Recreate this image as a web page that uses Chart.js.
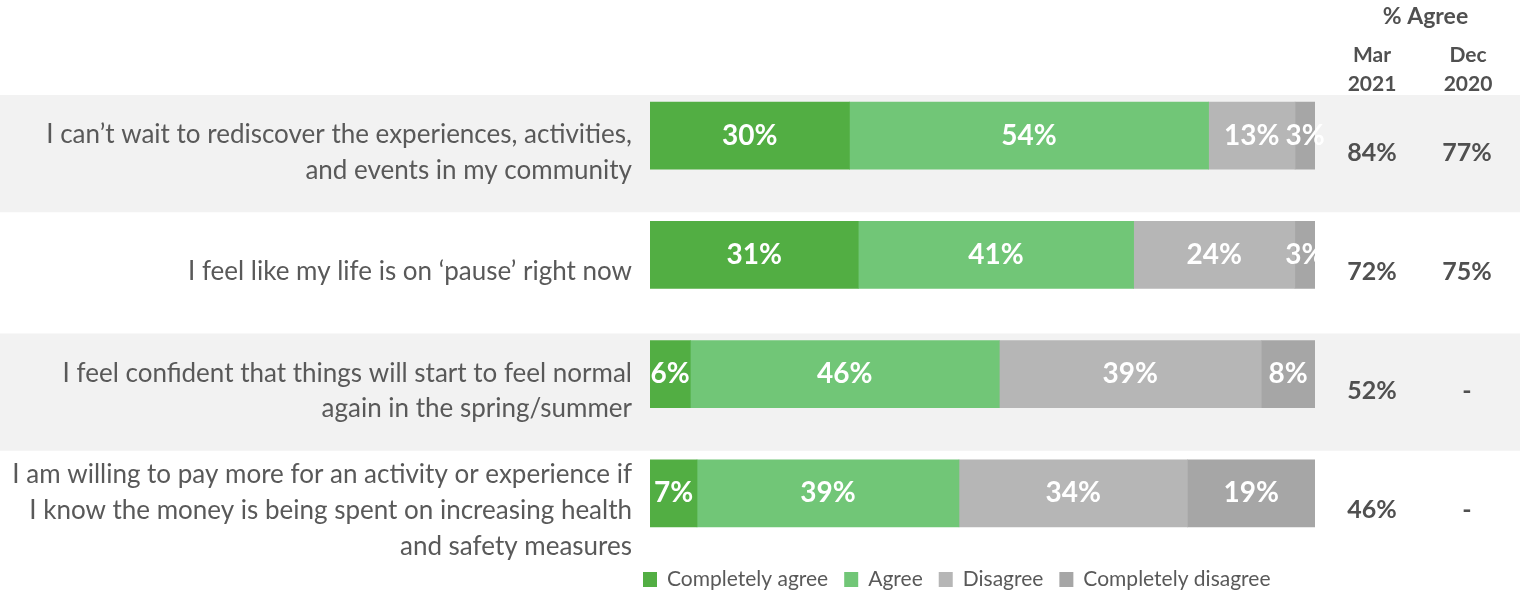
<!DOCTYPE html>
<html>
<head>
<meta charset="utf-8">
<script src="https://cdn.jsdelivr.net/npm/chart.js@4.4.0/dist/chart.umd.min.js"></script>
<style>
  body { margin: 0; background: #fff; }
  #wrap { width: 1520px; height: 593px; }
</style>
</head>
<body>
<div id="wrap"><canvas id="agreeChart" width="1520" height="593"></canvas></div>
<script>
// statements (one array per wrapped label)
const statements = [
    ['I can’t wait to rediscover the experiences, activities,', 'and events in my community'],
    ['I feel like my life is on ‘pause’ right now'],
    ['I feel confident that things will start to feel normal', 'again in the spring/summer'],
    ['I am willing to pay more for an activity or experience if', 'I know the money is being spent on increasing health', 'and safety measures']
];

const seriesNames = ['Completely agree', 'Agree', 'Disagree', 'Completely disagree'];
const completelyAgree = [30, 31, 6, 7];
const agree = [54, 41, 46, 39];
const disagree = [13, 24, 39, 34];
const completelyDisagree = [3, 3, 8, 19];

// % Agree columns
const agreeMar2021 = ['84%', '72%', '52%', '46%'];
const agreeDec2020 = ['77%', '75%', '-', '-'];

const colors = ['#52ae43', '#71c677', '#b6b6b6', '#a6a6a6'];
const rawSeries = [completelyAgree, agree, disagree, completelyDisagree];

const TEXT = '#595959';
const BAND_SHIFT = 17; // labels + bands sit a bit lower than the bars

// each bar fills the full width, so scale every row to its own total
const rowTotals = statements.map((_, i) => rawSeries.reduce((s, arr) => s + arr[i], 0));

const rowBands = {
    id: 'rowBands',
    beforeDraw(chart) {
        const { ctx } = chart;
        const yScale = chart.scales.y;
        const pitch = yScale.getPixelForValue(1) - yScale.getPixelForValue(0);
        ctx.save();
        ctx.fillStyle = '#f2f2f2';
        statements.forEach((_, i) => {
            if (i % 2) return;
            const mid = yScale.getPixelForValue(i) + BAND_SHIFT;
            ctx.fillRect(0, mid - pitch / 2 + 2, chart.width, pitch - 2);
        });
        ctx.restore();
    }
};

const barLabels = {
    id: 'barLabels',
    afterDatasetsDraw(chart) {
        const { ctx } = chart;
        ctx.save();
        ctx.fillStyle = '#ffffff';
        ctx.font = 'bold 28px Lato';
        ctx.textAlign = 'center';
        ctx.textBaseline = 'middle';
        chart.data.datasets.forEach((ds, d) => {
            chart.getDatasetMeta(d).data.forEach((bar, i) => {
                const { x, base, y } = bar.getProps(['x', 'base', 'y'], true);
                ctx.fillText(rawSeries[d][i] + '%', (x + base) / 2, y);
            });
        });
        ctx.restore();
    }
};

const agreeColumns = {
    id: 'agreeColumns',
    afterDraw(chart) {
        const { ctx, chartArea } = chart;
        const yScale = chart.scales.y;
        const marX = chartArea.right + 57;
        const decX = chartArea.right + 152;
        ctx.save();
        ctx.textAlign = 'center';
        ctx.textBaseline = 'middle';
        ctx.fillStyle = '#505050';

        ctx.font = 'bold 23px Lato';
        ctx.fillText('% Agree', (marX + decX) / 2 + 6, 17);
        ctx.font = 'bold 21px Lato';
        ctx.fillText('Mar', marX, 55);
        ctx.fillText('2021', marX, 84);
        ctx.fillText('Dec', decX + 1, 55);
        ctx.fillText('2020', decX + 1, 84);

        ctx.font = 'bold 25px Lato';
        statements.forEach((_, i) => {
            const y = yScale.getPixelForValue(i) + BAND_SHIFT;
            ctx.fillText(agreeMar2021[i], marX, y);
            ctx.fillText(agreeDec2020[i], decX, y);
        });

        // legend
        ctx.font = '21px Lato';
        ctx.textAlign = 'left';
        let lx = chartArea.left - 7;
        const ly = 579;
        seriesNames.forEach((name, d) => {
            ctx.fillStyle = colors[d];
            ctx.fillRect(lx, ly - 7, 14, 15);
            ctx.fillStyle = TEXT;
            ctx.fillText(name, lx + 24, ly);
            lx += 24 + ctx.measureText(name).width + 16;
        });
        ctx.restore();
    }
};

const ctx = document.getElementById('agreeChart').getContext('2d');
new Chart(ctx, {
    type: 'bar',
    data: {
        labels: statements,
        datasets: seriesNames.map((name, d) => ({
            label: name,
            data: rawSeries[d].map((v, i) => v / rowTotals[i] * 100),
            backgroundColor: colors[d],
            borderWidth: 0,
            barThickness: 67
        }))
    },
    options: {
        indexAxis: 'y',
        responsive: false,
        animation: false,
        layout: { padding: { left: 0, right: 205, top: 76, bottom: 40 } },
        plugins: {
            legend: { display: false },
            tooltip: { enabled: false }
        },
        scales: {
            x: { stacked: true, display: false, min: 0, max: 100 },
            y: {
                stacked: true,
                grid: { display: false, drawTicks: false },
                border: { display: false },
                ticks: {
                    font: { family: 'Lato', size: 26, lineHeight: 1.38 },
                    color: TEXT,
                    padding: 18,
                    labelOffset: BAND_SHIFT,
                    autoSkip: false
                },
                afterFit: (scale) => {
                    scale.width = 650;
                    scale.paddingTop = 0;
                    scale.paddingBottom = 0;
                }
            }
        }
    },
    plugins: [rowBands, barLabels, agreeColumns]
});
</script>
</body>
</html>
